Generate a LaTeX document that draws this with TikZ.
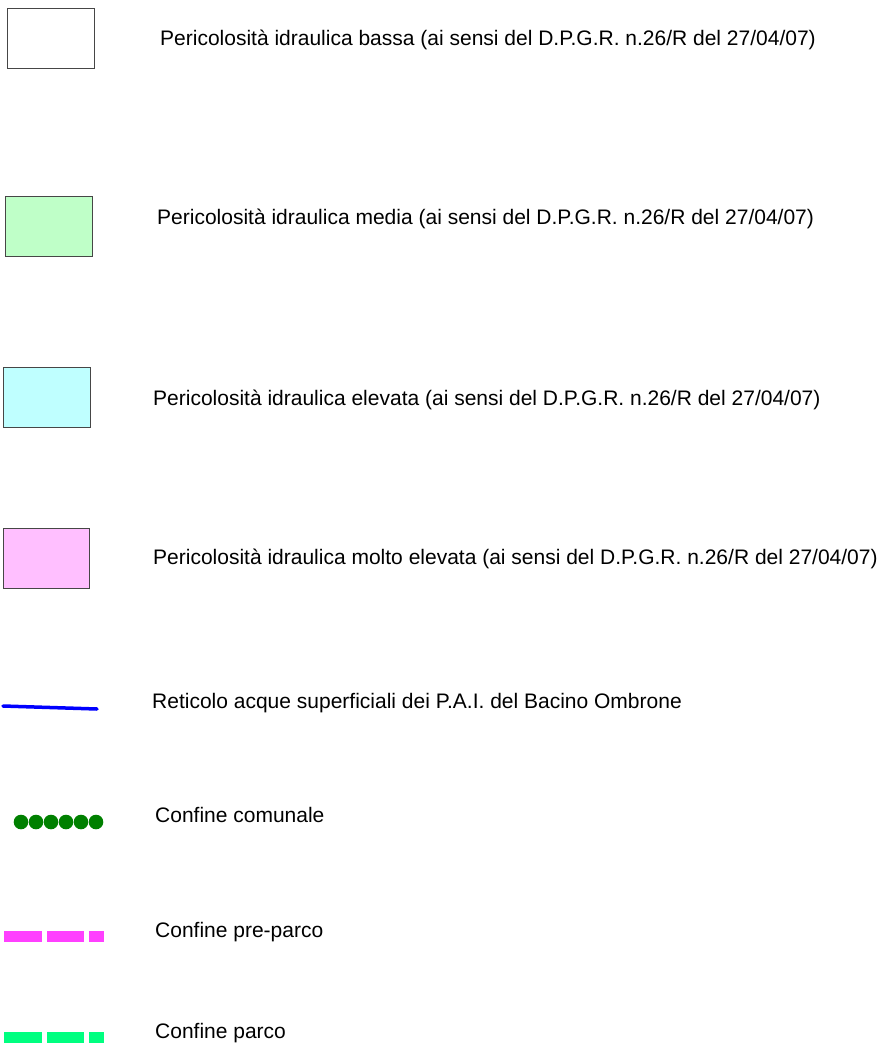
\documentclass[tikz,border=0pt]{standalone}
\usepackage{fontspec}
\setmainfont{Liberation Sans}
\usetikzlibrary{positioning}
\definecolor{medgreen}{RGB}{191,255,200}
\definecolor{highcyan}{RGB}{191,255,255}
\definecolor{veryhighpink}{RGB}{255,191,255}
\definecolor{boxedge}{RGB}{70,70,70}
\definecolor{comunegreen}{RGB}{0,128,0}
\definecolor{preparco}{RGB}{255,64,255}
\definecolor{parco}{RGB}{0,255,128}
\begin{document}
\begin{tikzpicture}[x=1pt,y=-1pt,
  legbox/.style={draw=boxedge,line width=1.2pt,minimum width=87pt,minimum height=60pt,inner sep=0pt,anchor=north west},
  legtext/.style={anchor=base west,inner sep=0pt,font=\fontsize{21}{24}\selectfont}]
\useasboundingbox (0,0) rectangle (885,1064);
% hazard classes
\node [legbox,fill=white] (bassa) at (7,8) {};
\node [legtext] (tbassa) at (160,46) {Pericolosità idraulica bassa (ai sensi del D.P.G.R. n.26/R del 27/04/07)};
\node [legbox,fill=medgreen] (media) at (5,196) {};
\node [legtext] (tmedia) at (157,225) {Pericolosità idraulica media (ai sensi del D.P.G.R. n.26/R del 27/04/07)};
\node [legbox,fill=highcyan] (elevata) at (3,367) {};
\node [legtext] (televata) at (153,405) {Pericolosità idraulica elevata (ai sensi del D.P.G.R. n.26/R del 27/04/07)};
\node [legbox,fill=veryhighpink,minimum width=86pt] (molto) at (3,528) {};
\node [legtext] (tmolto) at (153,564) {Pericolosità idraulica molto elevata (ai sensi del D.P.G.R. n.26/R del 27/04/07)};
% lines
\draw [blue,line width=3.5pt,line cap=round] (3,706) -- (97,709);
\node [legtext] (treticolo) at (152,708) {Reticolo acque superficiali dei P.A.I. del Bacino Ombrone};
\foreach \x in {21,36,51,66,81,96}
  \fill [comunegreen] (\x,822) circle (7.3pt);
\node [legtext] (tcomunale) at (155,822) {Confine comunale};
\foreach \a/\b in {4/42,47/84,89/104}
  \draw [preparco,line width=11pt] (\a,936) -- (\b,936);
\node [legtext] (tpreparco) at (155,937) {Confine pre-parco};
\foreach \a/\b in {4/42,47/84,89/104}
  \draw [parco,line width=11pt] (\a,1037) -- (\b,1037);
\node [legtext] (tparco) at (155,1038) {Confine parco};
\end{tikzpicture}
\end{document}
